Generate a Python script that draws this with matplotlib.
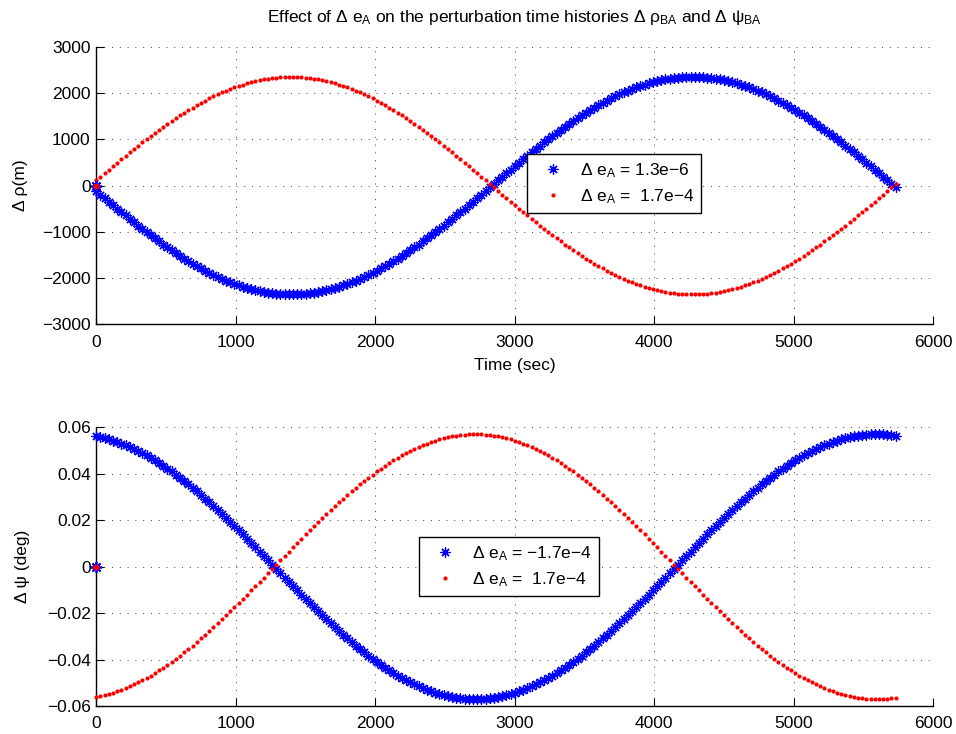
import matplotlib
matplotlib.use("Agg")
import matplotlib.pyplot as plt
from matplotlib.ticker import FuncFormatter, MultipleLocator

plt.rcParams["font.family"] = ["Liberation Sans", "DejaVu Sans"]
plt.rcParams["mathtext.default"] = "regular"
FS = 12.5
plt.rcParams["font.size"] = FS

# Sample times (s): initial reference point, then one orbit sampled every 30 s
t_sec = [0] + list(range(0, 5731, 30))

# Along-track separation perturbation (m)
rho_de_small = [
    0,
    -115, -192, -269, -345, -421, -496, -571, -645, -719, -792, -864, -935, -1005, -1074, -1142, -1208,
    -1274, -1338, -1400, -1461, -1520, -1578, -1634, -1689, -1741, -1792, -1841, -1888, -1932, -1975,
    -2016, -2054, -2090, -2124, -2156, -2186, -2213, -2237, -2260, -2280, -2297, -2312, -2325, -2335,
    -2342, -2347, -2350,
    -2350, -2347, -2342, -2335, -2325, -2312, -2297, -2280, -2260, -2237, -2213, -2186, -2156, -2124,
    -2090, -2054, -2016, -1975, -1932, -1888, -1841, -1792, -1741, -1689, -1634, -1578, -1520, -1461,
    -1400, -1338, -1274, -1208, -1142, -1074, -1005, -935, -864, -792, -719, -645, -571, -496, -421,
    -345, -269, -192, -115, -38,
    38, 115, 192, 269, 345, 421, 496, 571, 645, 719, 792, 864, 935, 1005, 1074, 1142, 1208, 1274, 1338,
    1400, 1461, 1520, 1578, 1634, 1689, 1741, 1792, 1841, 1888, 1932, 1975, 2016, 2054, 2090, 2124,
    2156, 2186, 2213, 2237, 2260, 2280, 2297, 2312, 2325, 2335, 2342, 2347, 2350,
    2350, 2347, 2342, 2335, 2325, 2312, 2297, 2280, 2260, 2237, 2213, 2186, 2156, 2124, 2090, 2054,
    2016, 1975, 1932, 1888, 1841, 1792, 1741, 1689, 1634, 1578, 1520, 1461, 1400, 1338, 1274, 1208,
    1142, 1074, 1005, 935, 864, 792, 719, 645, 571, 496, 421, 345, 269, 192, 115, 38,
    -38,
]
rho_de_large = [
    0,
    115, 192, 269, 345, 421, 496, 571, 645, 719, 792, 864, 935, 1005, 1074, 1142, 1208, 1274, 1338,
    1400, 1461, 1520, 1578, 1634, 1689, 1741, 1792, 1841, 1888, 1932, 1975, 2016, 2054, 2090, 2124,
    2156, 2186, 2213, 2237, 2260, 2280, 2297, 2312, 2325, 2335, 2342, 2347, 2350,
    2350, 2347, 2342, 2335, 2325, 2312, 2297, 2280, 2260, 2237, 2213, 2186, 2156, 2124, 2090, 2054,
    2016, 1975, 1932, 1888, 1841, 1792, 1741, 1689, 1634, 1578, 1520, 1461, 1400, 1338, 1274, 1208,
    1142, 1074, 1005, 935, 864, 792, 719, 645, 571, 496, 421, 345, 269, 192, 115, 38,
    -38, -115, -192, -269, -345, -421, -496, -571, -645, -719, -792, -864, -935, -1005, -1074, -1142,
    -1208, -1274, -1338, -1400, -1461, -1520, -1578, -1634, -1689, -1741, -1792, -1841, -1888, -1932,
    -1975, -2016, -2054, -2090, -2124, -2156, -2186, -2213, -2237, -2260, -2280, -2297, -2312, -2325,
    -2335, -2342, -2347, -2350,
    -2350, -2347, -2342, -2335, -2325, -2312, -2297, -2280, -2260, -2237, -2213, -2186, -2156, -2124,
    -2090, -2054, -2016, -1975, -1932, -1888, -1841, -1792, -1741, -1689, -1634, -1578, -1520, -1461,
    -1400, -1338, -1274, -1208, -1142, -1074, -1005, -935, -864, -792, -719, -645, -571, -496, -421,
    -345, -269, -192, -115, -38,
    38,
]

# Relative phase perturbation (deg)
psi_de_neg = [
    0,
    0.0561, 0.0557, 0.0553, 0.0548, 0.0543, 0.0537, 0.0530, 0.0523, 0.0515, 0.0507, 0.0498, 0.0489,
    0.0479, 0.0469, 0.0458, 0.0446, 0.0435, 0.0422, 0.0410, 0.0396, 0.0383, 0.0369, 0.0354, 0.0340,
    0.0324, 0.0309, 0.0293, 0.0277, 0.0260, 0.0244, 0.0227, 0.0209, 0.0192, 0.0174, 0.0157, 0.0139,
    0.0120, 0.0102, 0.0084, 0.0065, 0.0047, 0.0028, 0.0009,
    -0.0009, -0.0028, -0.0047, -0.0065, -0.0084, -0.0102, -0.0120, -0.0139, -0.0157, -0.0174, -0.0192,
    -0.0209, -0.0227, -0.0244, -0.0260, -0.0277, -0.0293, -0.0309, -0.0324, -0.0340, -0.0354, -0.0369,
    -0.0383, -0.0396, -0.0410, -0.0422, -0.0435, -0.0446, -0.0458, -0.0469, -0.0479, -0.0489, -0.0498,
    -0.0507, -0.0515, -0.0523, -0.0530, -0.0537, -0.0543, -0.0548, -0.0553, -0.0557, -0.0561, -0.0564,
    -0.0566, -0.0568, -0.0569, -0.0570,
    -0.0570, -0.0569, -0.0568, -0.0566, -0.0564, -0.0561, -0.0557, -0.0553, -0.0548, -0.0543, -0.0537,
    -0.0530, -0.0523, -0.0515, -0.0507, -0.0498, -0.0489, -0.0479, -0.0469, -0.0458, -0.0446, -0.0435,
    -0.0422, -0.0410, -0.0396, -0.0383, -0.0369, -0.0354, -0.0340, -0.0324, -0.0309, -0.0293, -0.0277,
    -0.0260, -0.0244, -0.0227, -0.0209, -0.0192, -0.0174, -0.0157, -0.0139, -0.0120, -0.0102, -0.0084,
    -0.0065, -0.0047, -0.0028, -0.0009,
    0.0009, 0.0028, 0.0047, 0.0065, 0.0084, 0.0102, 0.0120, 0.0139, 0.0157, 0.0174, 0.0192, 0.0209,
    0.0227, 0.0244, 0.0260, 0.0277, 0.0293, 0.0309, 0.0324, 0.0340, 0.0354, 0.0369, 0.0383, 0.0396,
    0.0410, 0.0422, 0.0435, 0.0446, 0.0458, 0.0469, 0.0479, 0.0489, 0.0498, 0.0507, 0.0515, 0.0523,
    0.0530, 0.0537, 0.0543, 0.0548, 0.0553, 0.0557, 0.0561, 0.0564, 0.0566, 0.0568, 0.0569, 0.0570,
    0.0570, 0.0569, 0.0568, 0.0566, 0.0564,
]
psi_de_pos = [
    0,
    -0.0561, -0.0557, -0.0553, -0.0548, -0.0543, -0.0537, -0.0530, -0.0523, -0.0515, -0.0507, -0.0498,
    -0.0489, -0.0479, -0.0469, -0.0458, -0.0446, -0.0435, -0.0422, -0.0410, -0.0396, -0.0383, -0.0369,
    -0.0354, -0.0340, -0.0324, -0.0309, -0.0293, -0.0277, -0.0260, -0.0244, -0.0227, -0.0209, -0.0192,
    -0.0174, -0.0157, -0.0139, -0.0120, -0.0102, -0.0084, -0.0065, -0.0047, -0.0028, -0.0009,
    0.0009, 0.0028, 0.0047, 0.0065, 0.0084, 0.0102, 0.0120, 0.0139, 0.0157, 0.0174, 0.0192, 0.0209,
    0.0227, 0.0244, 0.0260, 0.0277, 0.0293, 0.0309, 0.0324, 0.0340, 0.0354, 0.0369, 0.0383, 0.0396,
    0.0410, 0.0422, 0.0435, 0.0446, 0.0458, 0.0469, 0.0479, 0.0489, 0.0498, 0.0507, 0.0515, 0.0523,
    0.0530, 0.0537, 0.0543, 0.0548, 0.0553, 0.0557, 0.0561, 0.0564, 0.0566, 0.0568, 0.0569, 0.0570,
    0.0570, 0.0569, 0.0568, 0.0566, 0.0564, 0.0561, 0.0557, 0.0553, 0.0548, 0.0543, 0.0537, 0.0530,
    0.0523, 0.0515, 0.0507, 0.0498, 0.0489, 0.0479, 0.0469, 0.0458, 0.0446, 0.0435, 0.0422, 0.0410,
    0.0396, 0.0383, 0.0369, 0.0354, 0.0340, 0.0324, 0.0309, 0.0293, 0.0277, 0.0260, 0.0244, 0.0227,
    0.0209, 0.0192, 0.0174, 0.0157, 0.0139, 0.0120, 0.0102, 0.0084, 0.0065, 0.0047, 0.0028, 0.0009,
    -0.0009, -0.0028, -0.0047, -0.0065, -0.0084, -0.0102, -0.0120, -0.0139, -0.0157, -0.0174, -0.0192,
    -0.0209, -0.0227, -0.0244, -0.0260, -0.0277, -0.0293, -0.0309, -0.0324, -0.0340, -0.0354, -0.0369,
    -0.0383, -0.0396, -0.0410, -0.0422, -0.0435, -0.0446, -0.0458, -0.0469, -0.0479, -0.0489, -0.0498,
    -0.0507, -0.0515, -0.0523, -0.0530, -0.0537, -0.0543, -0.0548, -0.0553, -0.0557, -0.0561, -0.0564,
    -0.0566, -0.0568, -0.0569, -0.0570,
    -0.0570, -0.0569, -0.0568, -0.0566, -0.0564,
]

labels_rho = ["Δ e$_A$ = 1.3e\u22126", "Δ e$_A$ =  1.7e\u22124"]
labels_psi = ["Δ e$_A$ = \u22121.7e\u22124", "Δ e$_A$ =  1.7e\u22124"]

ASTERISK = (8, 2, 0)
BLUE = (0, 0, 1)
RED = (1, 0, 0)

W, H = 956, 734
fig = plt.figure(figsize=(W / 100, H / 100), dpi=100)
ax1 = fig.add_axes([96.3 / W, 1 - 324.3 / H, 837 / W, 277.3 / H])
ax2 = fig.add_axes([96.3 / W, 1 - 706 / H, 837 / W, 278.7 / H])


def style_axes(ax):
    for side in ("top", "right"):
        ax.spines[side].set_visible(False)
    for side in ("left", "bottom"):
        ax.spines[side].set_linewidth(1.0)
        ax.spines[side].set_color("black")
    ax.tick_params(direction="in", length=6, width=0.8, top=False, right=False,
                   labelsize=FS, colors="black")
    ax.tick_params(axis="x", pad=7.5)
    ax.tick_params(axis="y", pad=4)
    ax.grid(True, color="0.25", linestyle=(0, (1, 7)), linewidth=0.7)
    ax.set_axisbelow(True)
    ax.set_xlim(0, 6000)
    ax.xaxis.set_major_locator(MultipleLocator(1000))


def draw_pair(ax, y_blue, y_red):
    hb, = ax.plot(t_sec[1:], y_blue[1:], linestyle="none", marker=ASTERISK, ms=7.2,
                  mew=0.9, color=BLUE, clip_on=False, zorder=3)
    hr, = ax.plot(t_sec[1:], y_red[1:], linestyle="none", marker="o", ms=3.0,
                  mew=0, color=RED, clip_on=False, zorder=4)
    # initial reference sample at the origin
    ax.plot(t_sec[:1], y_blue[:1], linestyle="none", marker=ASTERISK, ms=8, mew=1.3,
            color=BLUE, clip_on=False, zorder=5)
    ax.plot(t_sec[:1], y_red[:1], linestyle="none", marker="o", ms=4.4, mew=0,
            color=RED, clip_on=False, zorder=6)
    return [hb, hr]


style_axes(ax1)
style_axes(ax2)

h1 = draw_pair(ax1, rho_de_small, rho_de_large)
h2 = draw_pair(ax2, psi_de_neg, psi_de_pos)

ax1.set_ylim(-3000, 3000)
ax1.yaxis.set_major_locator(MultipleLocator(1000))
ax2.set_ylim(-0.06, 0.06)
ax2.yaxis.set_major_locator(MultipleLocator(0.02))


def fmt_small(v, _):
    if abs(v) < 1e-9:
        return "0"
    return ("%g" % round(v, 4)).replace("-", "\u2212")


ax2.yaxis.set_major_formatter(FuncFormatter(fmt_small))

ax1.set_title("Effect of Δ e$_A$ on the perturbation time histories Δ ρ$_{BA}$ and Δ ψ$_{BA}$",
              fontsize=FS, pad=18)
ax1.set_xlabel("Time (sec)", fontsize=FS, labelpad=6)
ax1.set_ylabel("Δ ρ(m)", fontsize=FS, labelpad=10)
ax2.set_ylabel("Δ ψ (deg)", fontsize=FS, labelpad=12)

leg_kw = dict(loc="upper left", bbox_transform=fig.transFigure, borderaxespad=0,
              fancybox=False, edgecolor="black", framealpha=1, fontsize=FS,
              handlelength=2.2, handletextpad=0.45, borderpad=0.4, labelspacing=0.45,
              numpoints=1)
leg1 = ax1.legend(h1, labels_rho, bbox_to_anchor=(527 / W, 1 - 154 / H), **leg_kw)
leg2 = ax2.legend(h2, labels_psi, bbox_to_anchor=(419 / W, 1 - 537 / H), **leg_kw)
for leg in (leg1, leg2):
    leg.get_frame().set_linewidth(1.0)
    leg.set_zorder(10)

fig.savefig("out.png", dpi=100)
